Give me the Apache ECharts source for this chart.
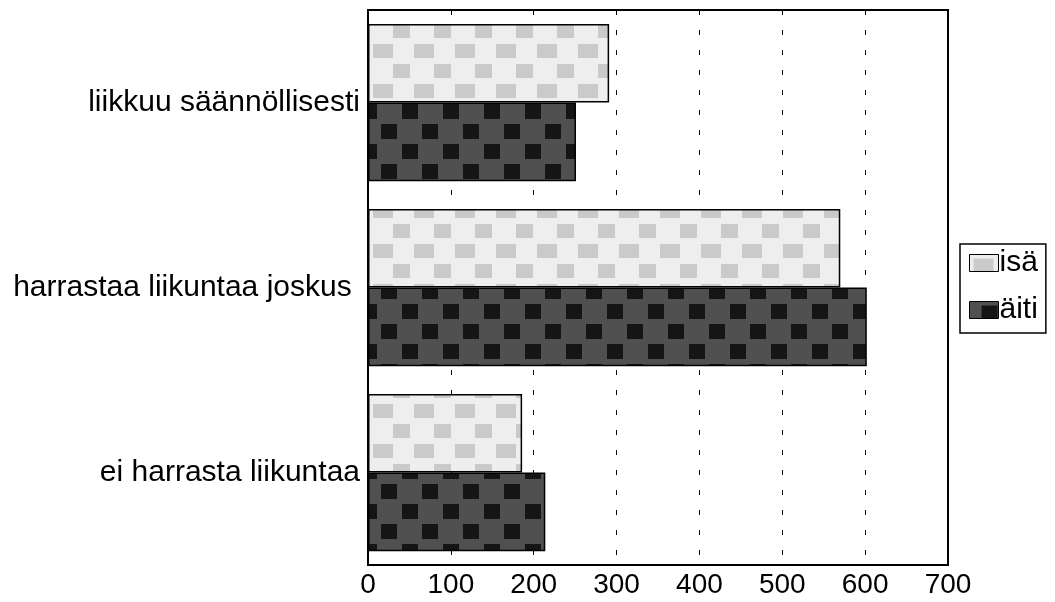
<!DOCTYPE html>
<html>
<head>
<meta charset="utf-8">
<script src="https://cdn.jsdelivr.net/npm/echarts@6/dist/echarts.min.js"></script>
<style>
html,body{margin:0;padding:0;background:#fff;}
#chart{width:1055px;height:602px;}
</style>
</head>
<body>
<div id="chart"></div>
<script>
const categories = ['liikkuu säännöllisesti', 'harrastaa liikuntaa joskus ', 'ei harrasta liikuntaa'];
const seriesNames = ['isä', 'äiti'];
const isaValues = [291, 570, 186];
const aitiValues = [251, 602, 214];
const xTicks = { min: 0, max: 700, interval: 100 };

function makePattern(base, block, w, h, blocks) {
  const c = document.createElement('canvas');
  c.width = w; c.height = h;
  const g = c.getContext('2d');
  g.fillStyle = base; g.fillRect(0, 0, w, h);
  g.fillStyle = block;
  blocks.forEach(b => g.fillRect(b[0], b[1], b[2], b[3]));
  return { image: c, repeat: 'repeat' };
}
const isaFill = makePattern('#eeeeee', '#cacaca', 41, 40, [[4, 4, 20, 14], [24, 24, 17, 14]]);
const aitiFill = makePattern('#505050', '#151515', 41, 40, [[12, 4, 16, 15], [0, 24, 8, 15], [33, 24, 8, 15]]);

const chart = echarts.init(document.getElementById('chart'), null, { renderer: 'canvas' });
const font = 'Liberation Sans, Arial, Helvetica, sans-serif';
chart.setOption({
  animation: false,
  backgroundColor: '#fff',
  textStyle: { fontFamily: font, color: '#000' },
  grid: {
    left: 368, right: 107, top: 10, bottom: 37,
    show: true, borderColor: '#000', borderWidth: 2, backgroundColor: 'transparent'
  },
  legend: {
    data: seriesNames,
    orient: 'vertical',
    left: 960, top: 244,
    padding: [4, 8, 8, 9],
    borderColor: '#000', borderWidth: 1.5,
    icon: 'rect',
    itemWidth: 29, itemHeight: 17, itemGap: 17,
    textStyle: { fontSize: 30, color: '#000', fontFamily: font, padding: [0, 0, 0, -4] },
    itemStyle: { borderColor: '#000', borderWidth: 1 }
  },
  xAxis: {
    type: 'value',
    min: xTicks.min, max: xTicks.max, interval: xTicks.interval,
    axisLine: { show: true, lineStyle: { color: '#000', width: 2 } },
    axisTick: { show: false },
    axisLabel: { fontSize: 28, color: '#000', margin: 6, fontFamily: font },
    splitLine: { show: true, lineStyle: { color: '#000', width: 1, type: [5, 15] } }
  },
  yAxis: {
    type: 'category',
    data: categories,
    inverse: true,
    axisLine: { show: true, lineStyle: { color: '#000', width: 2 } },
    axisTick: { show: false },
    axisLabel: { fontSize: 30, color: '#000', margin: 8, fontFamily: font }
  },
  series: [
    {
      name: seriesNames[0], type: 'bar', data: isaValues,
      barGap: '0%', barCategoryGap: '15%',
      itemStyle: { color: isaFill, borderColor: '#000', borderWidth: 1.5 }
    },
    {
      name: seriesNames[1], type: 'bar', data: aitiValues,
      barGap: '0%', barCategoryGap: '15%',
      itemStyle: { color: aitiFill, borderColor: '#000', borderWidth: 1.5 }
    }
  ]
});
</script>
</body>
</html>
